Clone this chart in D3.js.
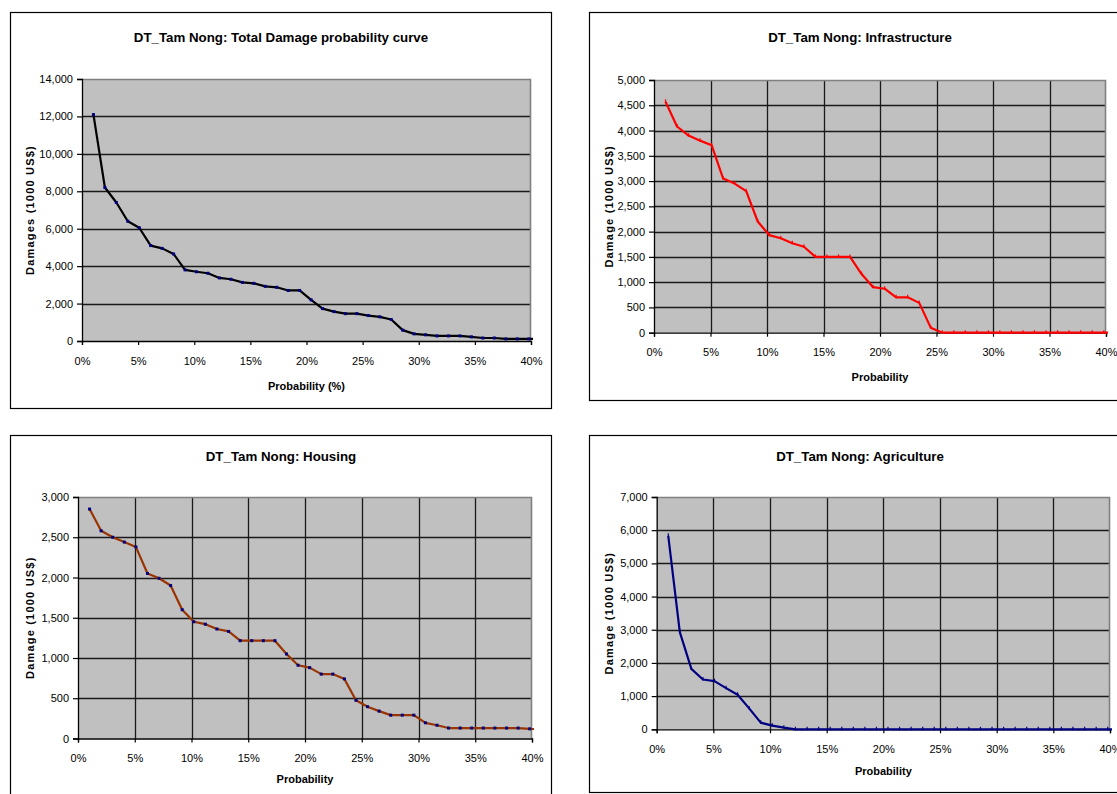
<!DOCTYPE html>
<html>
<head>
<meta charset="utf-8">
<script src="https://cdn.jsdelivr.net/npm/d3@7"></script>
<style>
  body { margin: 0; background: #fff; }
  svg { display: block; }
  text { font-family: "Liberation Sans", Arial, sans-serif; fill: #000; }
</style>
</head>
<body>
<svg id="chart" width="1117" height="794"></svg>
<script>
// Exceedance probability (%) of each flood event
const probability = [1.02, 2.04, 3.06, 4.08, 5.10, 6.12, 7.14, 8.16, 9.18, 10.20,
  11.22, 12.24, 13.27, 14.29, 15.31, 16.33, 17.35, 18.37, 19.39, 20.41,
  21.43, 22.45, 23.47, 24.49, 25.51, 26.53, 27.55, 28.57, 29.59, 30.61,
  31.63, 32.65, 33.67, 34.69, 35.71, 36.73, 37.76, 38.78, 39.80, 40.82];

// Damages in 1000 US$
const totalDamage = [12100, 8200, 7400, 6400, 6050, 5100, 4950, 4650, 3800, 3700,
  3620, 3370, 3300, 3130, 3080, 2920, 2870, 2700, 2700, 2200,
  1730, 1570, 1460, 1460, 1360, 1290, 1150, 580, 380, 330,
  270, 270, 270, 220, 160, 160, 110, 110, 110, 110];

const infrastructure = [4570, 4080, 3900, 3800, 3710, 3050, 2950, 2800, 2200, 1930,
  1870, 1770, 1700, 1500, 1500, 1500, 1500, 1160, 900, 870,
  700, 700, 590, 100, 0, 0, 0, 0, 0, 0,
  0, 0, 0, 0, 0, 0, 0, 0, 0, 0];

const housing = [2850, 2580, 2500, 2440, 2380, 2050, 1990, 1900, 1600, 1450,
  1420, 1360, 1330, 1215, 1215, 1215, 1215, 1050, 910, 880,
  800, 800, 740, 475, 395, 340, 290, 290, 290, 195,
  165, 130, 130, 130, 130, 130, 130, 130, 120, 115];

const agriculture = [5830, 2930, 1820, 1500, 1450, 1240, 1040, 630, 200, 110,
  50, 0, 0, 0, 0, 0, 0, 0, 0, 0,
  0, 0, 0, 0, 0, 0, 0, 0, 0, 0,
  0, 0, 0, 0, 0, 0, 0, 0, 0, 0];

// Axis ticks
const probabilityTicks = [0, 5, 10, 15, 20, 25, 30, 35, 40];
const totalTicks = [0, 2000, 4000, 6000, 8000, 10000, 12000, 14000];
const infrastructureTicks = [0, 500, 1000, 1500, 2000, 2500, 3000, 3500, 4000, 4500, 5000];
const housingTicks = [0, 500, 1000, 1500, 2000, 2500, 3000];
const agricultureTicks = [0, 1000, 2000, 3000, 4000, 5000, 6000, 7000];

const panels = [
  { id: "total", title: "DT_Tam Nong: Total Damage probability curve",
    yLabel: "Damages (1000 US$)", xLabel: "Probability (%)",
    values: totalDamage, yTicks: totalTicks,
    frame: { x: 10, y: 12, w: 541, h: 396 },
    plot: { x0: 82, x1: 531, y0: 79, y1: 341 },
    titleY: 41.5, xLabelY: 390,
    line: "#000000", marker: "#000080", markerShape: "square", vGrid: false },
  { id: "infra", title: "DT_Tam Nong: Infrastructure",
    yLabel: "Damage (1000 US$)", xLabel: "Probability",
    values: infrastructure, yTicks: infrastructureTicks,
    frame: { x: 589, y: 12, w: 541, h: 388 },
    plot: { x0: 654, x1: 1106, y0: 80, y1: 332.7 },
    titleY: 41.5, xLabelY: 380.5,
    line: "#ff0000", marker: "#ff0000", markerShape: "tick", vGrid: true },
  { id: "housing", title: "DT_Tam Nong: Housing",
    yLabel: "Damage (1000 US$)", xLabel: "Probability",
    values: housing, yTicks: housingTicks,
    frame: { x: 10, y: 435, w: 541, h: 396 },
    plot: { x0: 78, x1: 532, y0: 497, y1: 738.5 },
    titleY: 460.5, xLabelY: 782.5,
    line: "#993300", marker: "#000080", markerShape: "square", vGrid: true },
  { id: "agri", title: "DT_Tam Nong: Agriculture",
    yLabel: "Damage (1000 US$)", xLabel: "Probability",
    values: agriculture, yTicks: agricultureTicks,
    frame: { x: 589, y: 435, w: 541, h: 357 },
    plot: { x0: 656.7, x1: 1110, y0: 497, y1: 729.3 },
    titleY: 460.5, xLabelY: 775,
    line: "#000080", marker: "#000080", markerShape: "tick", vGrid: true }
];

const svg = d3.select("#chart");
const fmt = d3.format(",");

panels.forEach(p => {
  const g = svg.append("g").attr("class", "panel-" + p.id);
  const P = p.plot;
  const ymax = d3.max(p.yTicks);
  const x = d3.scaleLinear().domain([0, 40]).range([P.x0, P.x1]);
  const y = d3.scaleLinear().domain([0, ymax]).range([P.y1, P.y0]);

  // chart frame
  g.append("rect")
    .attr("x", p.frame.x + 0.5).attr("y", p.frame.y + 0.5)
    .attr("width", p.frame.w).attr("height", p.frame.h)
    .attr("fill", "#fff").attr("stroke", "#000").attr("stroke-width", 1.2);

  // plot area
  g.append("rect")
    .attr("x", P.x0).attr("y", P.y0)
    .attr("width", P.x1 - P.x0).attr("height", P.y1 - P.y0)
    .attr("fill", "#c0c0c0");

  // horizontal gridlines
  g.append("g").selectAll("line")
    .data(p.yTicks.filter(t => t > 0 && t < ymax))
    .join("line")
    .attr("x1", P.x0).attr("x2", P.x1)
    .attr("y1", d => Math.round(y(d)) + 0.5).attr("y2", d => Math.round(y(d)) + 0.5)
    .attr("stroke", "#1a1a1a").attr("stroke-width", 1.3);

  // vertical gridlines
  if (p.vGrid) {
    g.append("g").selectAll("line")
      .data(probabilityTicks.filter(t => t > 0 && t < 40))
      .join("line")
      .attr("x1", d => Math.round(x(d)) + 0.5).attr("x2", d => Math.round(x(d)) + 0.5)
      .attr("y1", P.y0).attr("y2", P.y1)
      .attr("stroke", "#1a1a1a").attr("stroke-width", 1.3);
  }

  // plot area border (top and right)
  g.append("path")
    .attr("d", `M${P.x0},${P.y0 + 0.5}H${P.x1 - 0.5}V${P.y1}`)
    .attr("fill", "none").attr("stroke", "#808080").attr("stroke-width", 1.6);

  // axes
  const yAxis = d3.axisLeft(y).tickValues(p.yTicks).tickFormat(fmt)
    .tickSize(5).tickPadding(4);
  const gy = g.append("g").attr("transform", `translate(${P.x0},0)`).call(yAxis);
  const xAxis = d3.axisBottom(x).tickValues(probabilityTicks).tickFormat(d => d + "%")
    .tickSize(4).tickPadding(12);
  const gx = g.append("g").attr("transform", `translate(0,${P.y1})`).call(xAxis);
  [gx, gy].forEach(a => {
    a.select(".domain").attr("stroke", "#000").attr("stroke-width", 1.3);
    a.selectAll(".tick line").attr("stroke", "#000").attr("stroke-width", 1.2);
    a.selectAll(".tick text")
      .attr("font-family", "'Liberation Sans', Arial, sans-serif")
      .attr("font-size", 11).attr("fill", "#000");
  });

  // series line, clipped to the plot area
  const clipId = "clip-" + p.id;
  g.append("clipPath").attr("id", clipId)
    .append("rect")
    .attr("x", P.x0).attr("y", P.y0 - 3)
    .attr("width", P.x1 - P.x0 + 2).attr("height", P.y1 - P.y0 + 6);

  const pts = probability.map((pr, i) => ({ pr, v: p.values[i] }));
  const line = d3.line().x(d => x(d.pr)).y(d => y(d.v));
  g.append("path")
    .datum(pts)
    .attr("clip-path", `url(#${clipId})`)
    .attr("d", line)
    .attr("fill", "none")
    .attr("stroke", p.line).attr("stroke-width", 2.2)
    .attr("stroke-linejoin", "round");

  // data markers
  const visible = pts.filter(d => d.pr <= 40);
  if (p.markerShape === "square") {
    g.append("g").selectAll("rect")
      .data(visible).join("rect")
      .attr("x", d => x(d.pr) - 1.5).attr("y", d => y(d.v) - 1.5)
      .attr("width", 3).attr("height", 3)
      .attr("fill", p.marker);
  } else {
    g.append("g").selectAll("line")
      .data(visible).join("line")
      .attr("x1", d => x(d.pr)).attr("x2", d => x(d.pr))
      .attr("y1", d => y(d.v) - 2.5).attr("y2", d => y(d.v) + 1)
      .attr("stroke", p.marker).attr("stroke-width", 1.2);
  }

  // titles
  const cx = p.frame.x + 271;
  g.append("text")
    .attr("x", cx).attr("y", p.titleY)
    .attr("text-anchor", "middle")
    .attr("font-size", 13.3).attr("font-weight", "bold")
    .text(p.title);

  g.append("text")
    .attr("x", (P.x0 + P.x1) / 2).attr("y", p.xLabelY)
    .attr("text-anchor", "middle")
    .attr("font-size", 11).attr("font-weight", "bold")
    .text(p.xLabel);

  g.append("text")
    .attr("transform", `translate(${p.frame.x + 24},${(P.y0 + P.y1) / 2}) rotate(-90)`)
    .attr("text-anchor", "middle")
    .attr("font-size", 11).attr("font-weight", "bold")
    .attr("letter-spacing", 1.2)
    .text(p.yLabel);
});
</script>
</body>
</html>
